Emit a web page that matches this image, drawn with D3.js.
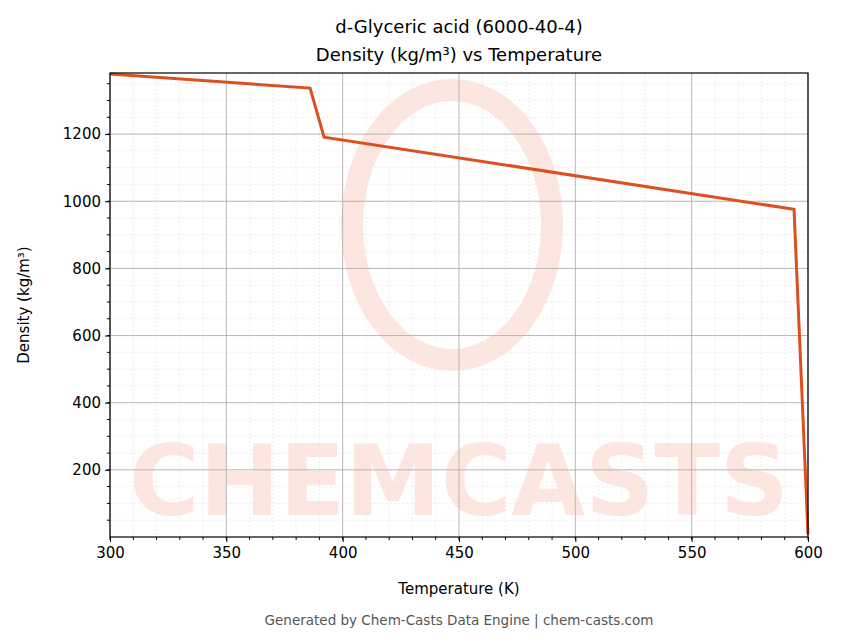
<!DOCTYPE html>
<meta charset="utf-8">
<style>
  body { margin: 0; font-family: "DejaVu Sans", sans-serif; background: #fff; }
  .grid-minor line { stroke: #e2e2e2; stroke-dasharray: 2,2; stroke-width: 0.6px; }
  .grid-major line { stroke: #aaa; stroke-width: 0.8px; }
  .minor line { stroke: #000; stroke-width: 1px; }
  .lab text { font-size: 15px !important; font-family: "DejaVu Sans" !important; fill: #000; }
</style>
<body>
<script src="https://cdn.jsdelivr.net/npm/d3@7"></script>
<script>
  var temps = [300, 386, 392, 594, 600];
  var density = [1379, 1337, 1191, 976, 8];
  var xTicks = [300, 350, 400, 450, 500, 550, 600];
  var yTicks = [200, 400, 600, 800, 1000, 1200];

  var W = 843, H = 644;
  var m = {left: 110, top: 73, right: 808, bottom: 537};

  var svg = d3.select("body").append("svg").attr("width", W).attr("height", H)
    .style("font-family", "DejaVu Sans");

  var x = d3.scaleLinear().domain([300, 600]).range([m.left, m.right]);
  var y = d3.scaleLinear().domain([0, 1382]).range([m.bottom, m.top]);

  // watermark
  svg.append("ellipse").attr("cx", 452).attr("cy", 225).attr("rx", 100).attr("ry", 135)
    .attr("fill", "none").attr("stroke", "#fde6e0").attr("stroke-width", 22);
  svg.append("text").attr("x", 459).attr("y", 515).attr("text-anchor", "middle")
    .attr("font-size", 98).attr("font-weight", "bold").attr("fill", "#fde6e0")
    .attr("textLength", 660).attr("lengthAdjust", "spacingAndGlyphs").text("CHEMCASTS");

  var xMinor = d3.range(300, 601, 10), yMinor = d3.range(50, 1382, 50);
  var gm = svg.append("g").attr("class", "grid-minor");
  gm.selectAll(".vx").data(xMinor).join("line")
    .attr("x1", x).attr("x2", x).attr("y1", m.top).attr("y2", m.bottom);
  gm.selectAll(".hy").data(yMinor).join("line")
    .attr("y1", y).attr("y2", y).attr("x1", m.left).attr("x2", m.right);
  var gM = svg.append("g").attr("class", "grid-major");
  gM.selectAll(".vx").data(xTicks).join("line")
    .attr("x1", x).attr("x2", x).attr("y1", m.top).attr("y2", m.bottom);
  gM.selectAll(".hy").data(yTicks).join("line")
    .attr("y1", y).attr("y2", y).attr("x1", m.left).attr("x2", m.right);

  var line = d3.line().x((d, i) => x(temps[i])).y(d => y(d));
  svg.append("path").datum(density).attr("d", line)
    .attr("fill", "none").attr("stroke", "#dc5020").attr("stroke-width", 3);

  svg.append("rect").attr("x", m.left).attr("y", m.top)
    .attr("width", m.right - m.left).attr("height", m.bottom - m.top)
    .attr("fill", "none").attr("stroke", "#000").attr("stroke-width", 1.2);

  var mn = svg.append("g").attr("class", "minor");
  mn.selectAll(".mx").data(xMinor).join("line")
    .attr("x1", x).attr("x2", x).attr("y1", m.bottom).attr("y2", m.bottom + 3);
  mn.selectAll(".my").data(yMinor).join("line")
    .attr("y1", y).attr("y2", y).attr("x1", m.left - 3).attr("x2", m.left);

  svg.append("g").attr("class", "lab").attr("transform", `translate(0,${m.bottom})`)
    .call(d3.axisBottom(x).tickValues(xTicks).tickSize(5).tickPadding(5).tickFormat(d3.format("d")));
  svg.append("g").attr("class", "lab").attr("transform", `translate(${m.left},0)`)
    .call(d3.axisLeft(y).tickValues(yTicks).tickSize(5).tickPadding(4).tickFormat(d3.format("d")));
  svg.selectAll(".domain").remove();

  svg.append("text").attr("x", 459).attr("y", 594).attr("text-anchor", "middle")
    .attr("font-size", 15).text("Temperature (K)");
  svg.append("text").attr("transform", "translate(29,305) rotate(-90)").attr("text-anchor", "middle")
    .attr("font-size", 15).text("Density (kg/m³)");
  svg.append("text").attr("x", 459).attr("y", 33).attr("text-anchor", "middle")
    .attr("font-size", 18).text("d-Glyceric acid (6000-40-4)");
  svg.append("text").attr("x", 459).attr("y", 61).attr("text-anchor", "middle")
    .attr("font-size", 18).text("Density (kg/m³) vs Temperature");
  svg.append("text").attr("x", 459).attr("y", 625).attr("text-anchor", "middle")
    .attr("font-size", 13.5).attr("fill", "#555").text("Generated by Chem-Casts Data Engine | chem-casts.com");
</script>
</body>
